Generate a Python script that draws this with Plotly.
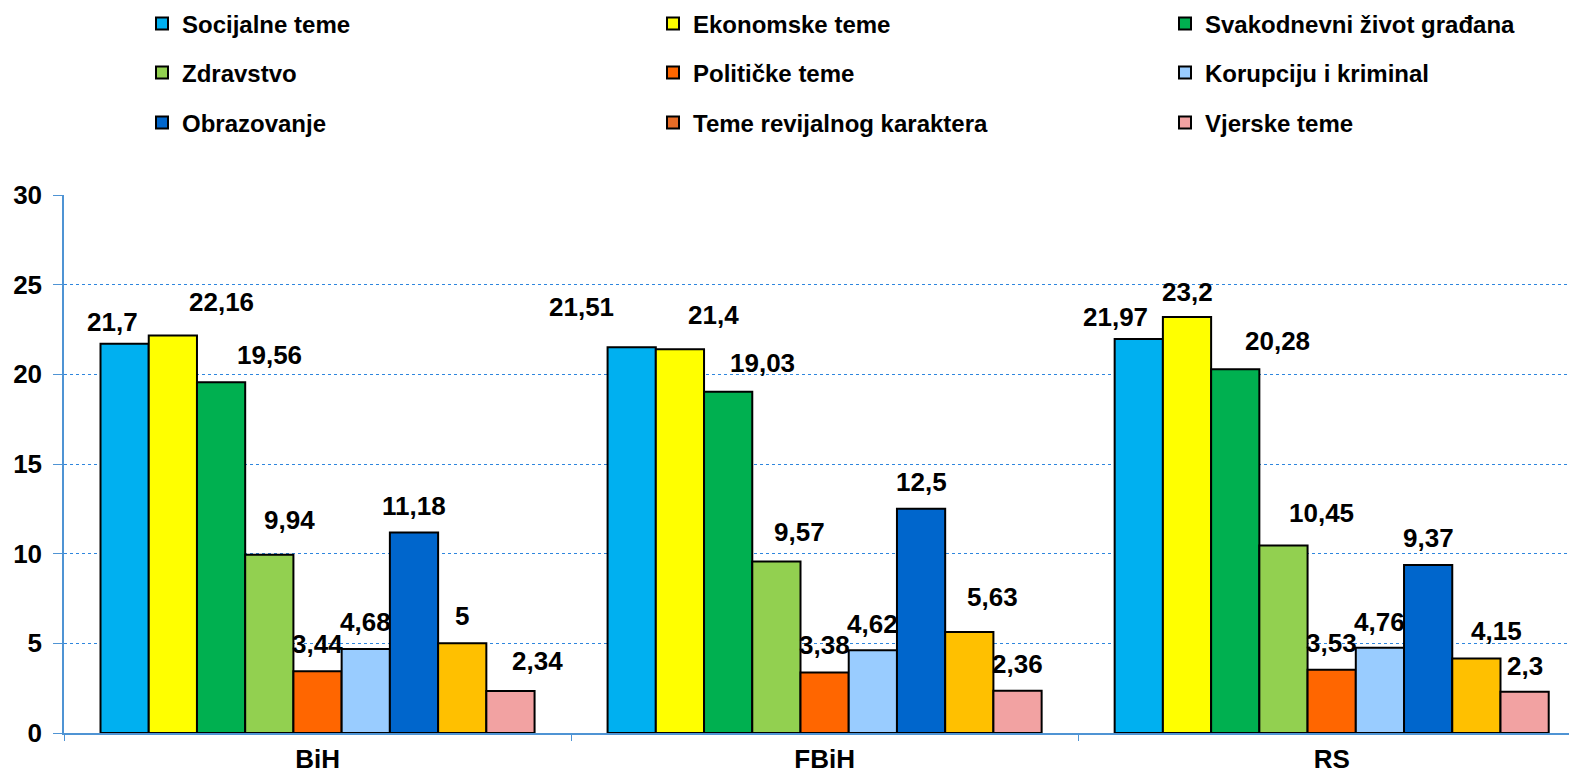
import plotly.graph_objects as go

categories = ["BiH", "FBiH", "RS"]

series_names = [
    "Socijalne teme", "Ekonomske teme", "Svakodnevni život građana",
    "Zdravstvo", "Političke teme", "Korupciju i kriminal",
    "Obrazovanje", "Teme revijalnog karaktera", "Vjerske teme",
]

socijalne = [21.7, 21.51, 21.97]
ekonomske = [22.16, 21.4, 23.2]
svakodnevni = [19.56, 19.03, 20.28]
zdravstvo = [9.94, 9.57, 10.45]
politicke = [3.44, 3.38, 3.53]
korupcija = [4.68, 4.62, 4.76]
obrazovanje = [11.18, 12.5, 9.37]
revijalne = [5, 5.63, 4.15]
vjerske = [2.34, 2.36, 2.3]

values = [socijalne, ekonomske, svakodnevni, zdravstvo, politicke,
          korupcija, obrazovanje, revijalne, vjerske]

bar_colors = ["#00B0F0", "#FFFF00", "#00B050", "#92D050", "#FF6600",
              "#99CCFF", "#0066CC", "#FFC000", "#F2A2A2"]
legend_colors = list(bar_colors)
legend_colors[7] = "#E86C26"

# label placement tweaks (pixels): horizontal shift, height of label centre above bar top
label_dx = [[-12, -50, -23], [49, 34, 0], [48, 34, 42], [20, 23, 38], [0, 0, 0],
            [0, 0, 0], [0, 0, 0], [0, 23, 20], [27, 0, 0]]
label_dy = [[22, 40, 22], [34, 34, 25], [27, 29, 28], [35, 29, 33], [27, 27, 27],
            [27, 26, 26], [27, 27, 27], [27, 35, 28], [30, 27, 26]]

# legend grid (pixels in the page): column left edges, row centres
legend_col_x = [142, 653, 1165]
legend_row_y = [24, 73, 123]

FONT = "Arial, 'Liberation Sans', sans-serif"
BARGAP = 0.144
W, H = 1569, 775
n = len(series_names)
legend_ids = ["legend"] + [f"legend{k}" for k in range(2, n + 1)]

fig = go.Figure()
for i, (name, vals) in enumerate(zip(series_names, values)):
    separate_legend = legend_colors[i] != bar_colors[i]
    fig.add_trace(go.Bar(
        name=name, x=categories, y=vals,
        marker=dict(color=bar_colors[i], line=dict(color="black", width=2)),
        showlegend=not separate_legend,
        legend=legend_ids[i],
    ))
    if separate_legend:
        fig.add_trace(go.Scatter(
            name=name, x=[None], y=[None], mode="markers",
            marker=dict(symbol="square", size=12, color=legend_colors[i],
                        line=dict(color="black", width=2)),
            legend=legend_ids[i], showlegend=True,
        ))

bw = (1 - BARGAP) / n
for i, vals in enumerate(values):
    for j, v in enumerate(vals):
        txt = f"{v:g}".replace(".", ",")
        fig.add_annotation(
            x=j + (i - (n - 1) / 2) * bw, y=v, text=txt, showarrow=False,
            xshift=label_dx[i][j], yshift=label_dy[i][j], yanchor="middle",
            font=dict(family=FONT, size=26, color="black", weight="bold"),
        )

axis_blue = "#4F94D4"
legend_common = dict(
    orientation="h", xref="container", yref="container",
    xanchor="left", yanchor="middle",
    font=dict(family=FONT, size=24, color="black", weight="bold"),
    bgcolor="rgba(0,0,0,0)", itemclick=False, itemdoubleclick=False,
)
layout_legends = {}
for i, lid in enumerate(legend_ids):
    r, c = divmod(i, 3)
    layout_legends[lid] = dict(legend_common, x=legend_col_x[c] / W,
                               y=1 - legend_row_y[r] / H)

fig.update_layout(
    width=W, height=H,
    margin=dict(l=64, r=0, t=195, b=42, autoexpand=False),
    paper_bgcolor="white", plot_bgcolor="white",
    barmode="group", bargap=BARGAP, bargroupgap=0,
    font=dict(family=FONT, color="black"),
    **layout_legends,
)
fig.update_xaxes(
    type="category", range=[-0.5, 2.468],
    showline=True, linecolor=axis_blue, linewidth=1.5,
    ticks="outside", tickson="boundaries", ticklen=6, tickcolor=axis_blue,
    tickfont=dict(family=FONT, size=26, color="black", weight="bold"),
    ticklabelstandoff=2,
    showgrid=False,
)
fig.update_yaxes(
    range=[0, 30], dtick=5, tick0=0,
    showline=True, linecolor=axis_blue, linewidth=1.5,
    ticks="outside", ticklen=9, tickcolor=axis_blue,
    tickfont=dict(family=FONT, size=26, color="black", weight="bold"),
    ticklabelstandoff=6,
    showgrid=True, gridcolor="#2E86DE", griddash="dot", gridwidth=1,
    zeroline=False,
)

fig.write_html(
    "out.html",
    config={"displayModeBar": False},
    post_script="document.body.style.margin='0';document.body.style.overflow='hidden';",
)
